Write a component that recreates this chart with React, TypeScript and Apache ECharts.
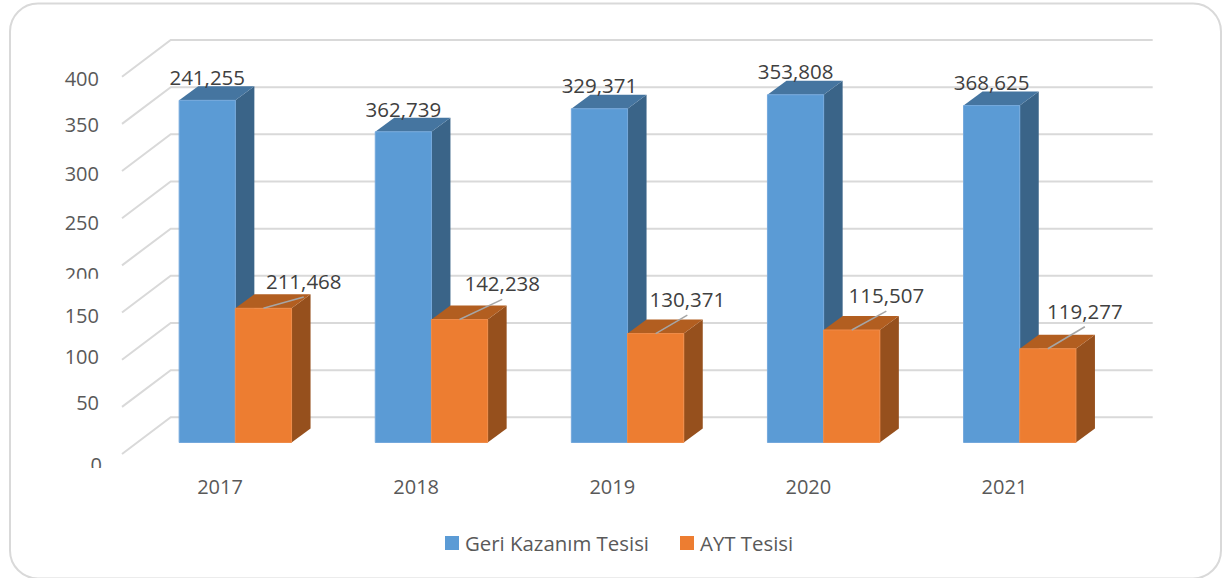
import React, { useEffect, useRef } from "react";
import * as echarts from "echarts";

const categories = ["2017", "2018", "2019", "2020", "2021"];
const tickValues = [0, 50, 100, 150, 200, 250, 300, 350, 400];
const geriValues = [362.739, 329.371, 353.808, 368.625, 357.2];
const aytValues = [142.238, 130.371, 115.507, 119.277, 99.4];
const geriLabels = ["241,255", "362,739", "329,371", "353,808", "368,625"];
const aytLabels = ["211,468", "142,238", "130,371", "115,507", "119,277"];
const geriName = "Geri Kazanım Tesisi";
const aytName = "AYT Tesisi";

const FONT = "'Open Sans', 'Noto Sans', sans-serif";
const GRID = { left: 122, top: 76.7, width: 980.5, height: 377.3 };
const WALL = { dx: 48.7, dy: -36.7 };
const PLANE = { dx: 15.3, dy: -11.5 };
const DEPTH = { dx: 19, dy: -14 };
const BAR_W = 56.2;
// nudges of the tick texts (dx, dy) from the front end of their gridline, by tick index
const tickNudge = [
  [3, 10], [0, -4], [0, -3.5], [0, 2.5], [0, 9], [0, 4.5], [0, 2], [0, 1], [0, 2],
];
// tick indexes whose text is cut at the bottom, and the y offset of the cut from text centre
const tickCut: Record<number, number> = { 0: 4, 4: 4.5 };
// offsets of AYT labels from the centre of the bar's top front edge
const aytLabelOffset = [
  [40.3, -27.4], [42.7, -36.1], [31.7, -34.5], [34.6, -34.9], [37, -38],
];

function poly(points: number[][], fill: string, stroke?: string) {
  return {
    type: "polygon",
    shape: { points },
    style: stroke ? { fill, stroke, lineWidth: 1 } : { fill },
  };
}

function barRenderer(
  shift: number,
  colors: { front: string; side: string; top: string; edge: string },
  labelFor: (i: number, cx: number, topY: number) => any[]
) {
  return (params: any, api: any) => {
    const i = api.value(0);
    const top = api.coord([i, api.value(1)]);
    const base = api.coord([i, 0]);
    const l = top[0] + PLANE.dx + shift;
    const r = l + BAR_W;
    const t = top[1] + PLANE.dy;
    const b = base[1] + PLANE.dy;
    const d = DEPTH;
    return {
      type: "group",
      children: [
        poly([[r, t], [r + d.dx, t + d.dy], [r + d.dx, b + d.dy], [r, b]], colors.side),
        poly([[l, t], [l + d.dx, t + d.dy], [r + d.dx, t + d.dy], [r, t]], colors.top),
        poly([[l, t], [r, t], [r, b], [l, b]], colors.front, colors.edge),
        ...labelFor(i, (l + r) / 2, t),
      ],
    };
  };
}

function labelText(text: string, x: number, y: number) {
  return {
    type: "text",
    style: {
      text, x, y, fill: "#404040", fontSize: 20.5, fontFamily: FONT,
      align: "center", verticalAlign: "middle",
    },
  };
}

export default function App() {
  const ref = useRef<HTMLDivElement>(null);
  useEffect(() => {
    const chart = echarts.init(ref.current!, undefined, { renderer: "svg" });
    chart.setOption({
      animation: false,
      backgroundColor: "#ffffff",
      graphic: [
        {
          type: "rect",
          z: -10,
          silent: true,
          shape: { x: 10, y: 3.5, width: 1211, height: 575, r: 28 },
          style: { fill: "#ffffff", stroke: "#d9d9d9", lineWidth: 2 },
        },
      ],
      legend: {
        data: [geriName, aytName],
        left: 440,
        top: 528,
        icon: "rect",
        itemWidth: 14,
        itemHeight: 14,
        itemGap: 31,
        textStyle: { color: "#595959", fontSize: 20.4, fontFamily: FONT, padding: [0, 0, 0, 1] },
      },
      grid: { ...GRID },
      xAxis: {
        type: "category",
        data: categories,
        axisLine: { show: false },
        axisTick: { show: false },
        splitLine: { show: false },
        axisLabel: { color: "#595959", fontSize: 20, fontFamily: FONT, margin: 22 },
      },
      yAxis: {
        type: "value",
        min: 0,
        max: 400,
        interval: 50,
        axisLine: { show: false },
        axisTick: { show: false },
        splitLine: { show: false },
        axisLabel: { show: false },
      },
      series: [
        {
          type: "custom",
          name: "gridlines",
          silent: true,
          z: 1,
          data: tickValues.map((v) => [0, v]),
          encode: { x: 0, y: 1 },
          renderItem: (params: any, api: any) => {
            const y = api.coord([0, api.value(1)])[1];
            const cs = params.coordSys;
            const x0 = cs.x;
            return {
              type: "polyline",
              shape: {
                points: [
                  [x0, y],
                  [x0 + WALL.dx, y + WALL.dy],
                  [x0 + WALL.dx + cs.width + 1.5, y + WALL.dy],
                ],
              },
              style: { fill: "none", stroke: "#d9d9d9", lineWidth: 2 },
            };
          },
        },
        {
          type: "custom",
          name: "ticks",
          silent: true,
          z: 2,
          data: tickValues.map((v) => [0, v]),
          encode: { x: 0, y: 1 },
          renderItem: (params: any, api: any) => {
            const idx = params.dataIndex;
            const y = api.coord([0, api.value(1)])[1] + tickNudge[idx][1];
            const x = params.coordSys.x - 23 + tickNudge[idx][0];
            const children: any[] = [
              {
                type: "text",
                style: {
                  text: String(tickValues[idx]), x, y, fill: "#595959", fontSize: 20,
                  fontFamily: FONT, align: "right", verticalAlign: "middle",
                },
              },
            ];
            if (tickCut[idx] !== undefined) {
              children.push({
                type: "rect",
                shape: { x: x - 42, y: y + tickCut[idx], width: 44, height: 14 },
                style: { fill: "#ffffff" },
              });
            }
            return { type: "group", children };
          },
        },
        {
          type: "custom",
          name: geriName,
          silent: true,
          z: 3,
          itemStyle: { color: "#5b9bd5" },
          data: geriValues.map((v, i) => [i, v]),
          encode: { x: 0, y: 1 },
          renderItem: barRenderer(
            -BAR_W,
            { front: "#5b9bd5", side: "#3a6488", top: "#4575a0", edge: "#74a8dc" },
            (i, cx, t) => [labelText(geriLabels[i], cx, t - 23.3)]
          ),
        },
        {
          type: "custom",
          name: aytName,
          silent: true,
          z: 4,
          itemStyle: { color: "#ed7d31" },
          data: aytValues.map((v, i) => [i, v]),
          encode: { x: 0, y: 1 },
          renderItem: barRenderer(
            0,
            { front: "#ed7d31", side: "#96501d", top: "#b25e20", edge: "#ef8b48" },
            (i, cx, t) => {
              const [dx, dy] = aytLabelOffset[i];
              return [
                {
                  type: "line",
                  shape: { x1: cx, y1: t, x2: cx + dx, y2: t + dy + 16 },
                  style: { stroke: "#a6a6a6", lineWidth: 1.5 },
                },
                labelText(aytLabels[i], cx + dx, t + dy),
              ];
            }
          ),
        },
      ],
    });
    return () => chart.dispose();
  }, []);
  return (
    <div
      ref={ref}
      style={{ position: "fixed", left: 0, top: 0, width: 1223, height: 578 }}
    />
  );
}
